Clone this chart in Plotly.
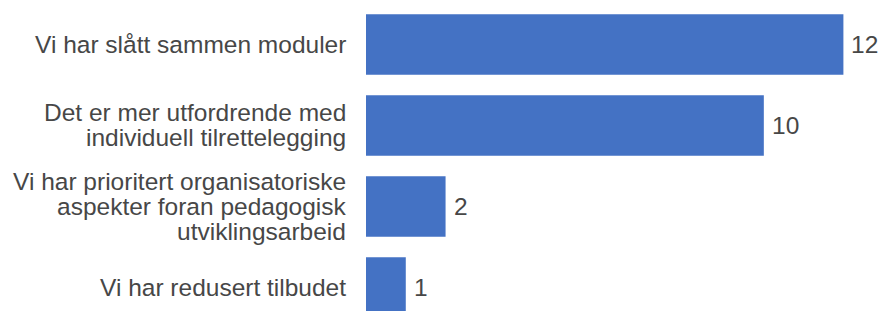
import plotly.graph_objects as go

categories = [
    "Vi har slått sammen moduler",
    "Det er mer utfordrende med\nindividuell tilrettelegging",
    "Vi har prioritert organisatoriske\naspekter foran pedagogisk\nutviklingsarbeid",
    "Vi har redusert tilbudet",
]
values = [12, 10, 2, 1]

BAR_COLOR = "#4472C4"
TEXT_COLOR = "#474747"
FONT = "Liberation Sans, Arial, sans-serif"
FS = 24.5
LINE = 25

fig = go.Figure(go.Bar(
    x=values,
    y=categories,
    orientation="h",
    marker=dict(color=BAR_COLOR, line=dict(width=0)),
    hoverinfo="skip",
))

annotations = []
for cat, val in zip(categories, values):
    lines = cat.split("\n")
    n = len(lines)
    for i, ln in enumerate(lines):
        annotations.append(dict(
            x=0, xref="paper", xanchor="right", xshift=-18,
            y=cat, yref="y", yanchor="middle",
            yshift=((n - 1) / 2 - i) * LINE,
            text=ln, showarrow=False,
            font=dict(family=FONT, size=FS, color=TEXT_COLOR),
        ))
    annotations.append(dict(
        x=val, xref="x", xanchor="left", xshift=6,
        y=cat, yref="y", yanchor="middle",
        text=str(val), showarrow=False,
        font=dict(family=FONT, size=FS, color=TEXT_COLOR),
    ))

fig.update_layout(
    width=880, height=311,
    margin=dict(l=366, r=0, t=0, b=0),
    paper_bgcolor="white", plot_bgcolor="white",
    bargap=0.253,
    showlegend=False,
    annotations=annotations,
    xaxis=dict(range=[0, 12.92], visible=False),
    yaxis=dict(type="category", categoryorder="array", categoryarray=categories,
               range=[3.29, -0.549], showticklabels=False, showgrid=False,
               zeroline=False, showline=False, ticks=""),
)

# remove the default 8px page margin so the figure fills the window exactly
fig.write_html(
    "out.html",
    config={"displayModeBar": False, "staticPlot": True},
    post_script="document.body.style.margin='0';document.body.style.overflow='hidden';",
)
